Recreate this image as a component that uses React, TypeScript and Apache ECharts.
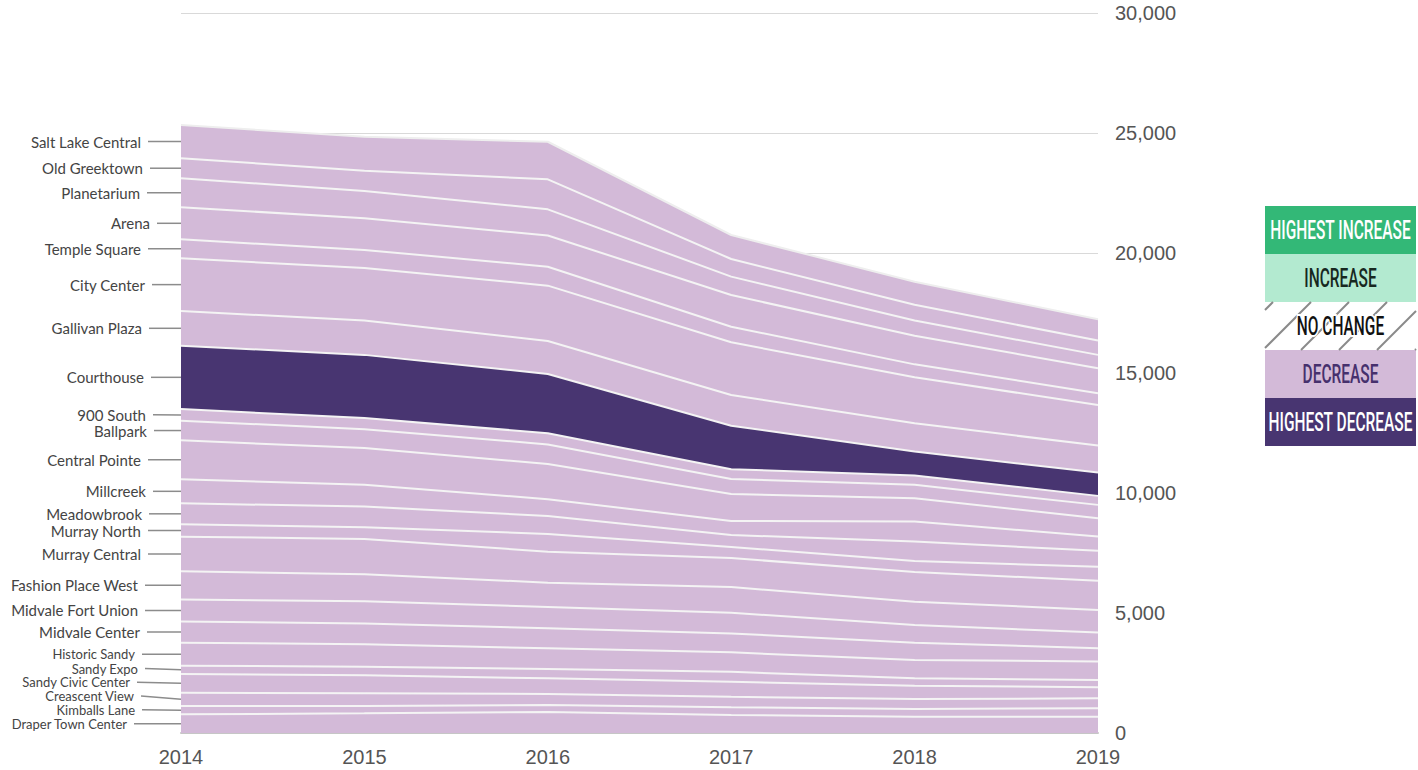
import React, { useEffect, useRef } from "react";
import * as echarts from "echarts";

const years = ["2014", "2015", "2016", "2017", "2018", "2019"];

// stations listed bottom -> top of the stack
const stations = [
  "Draper Town Center",
  "Kimballs Lane",
  "Creascent View",
  "Sandy Civic Center",
  "Sandy Expo",
  "Historic Sandy",
  "Midvale Center",
  "Midvale Fort Union",
  "Fashion Place West",
  "Murray Central",
  "Murray North",
  "Meadowbrook",
  "Millcreek",
  "Central Pointe",
  "Ballpark",
  "900 South",
  "Courthouse",
  "Gallivan Plaza",
  "City Center",
  "Temple Square",
  "Arena",
  "Planetarium",
  "Old Greektown",
  "Salt Lake Central",
];

const draperTownCenter = [780, 820, 875, 750, 680, 680];
const kimballsLane = [345, 305, 290, 320, 320, 350];
const creascentView = [555, 530, 460, 440, 415, 415];
const sandyCivicCenter = [780, 750, 655, 625, 555, 460];
const sandyExpo = [345, 360, 390, 415, 310, 305];
const historicSandy = [960, 935, 860, 810, 765, 765];
const midvaleCenter = [885, 865, 835, 790, 720, 560];
const midvaleFortUnion = [915, 925, 885, 860, 735, 650];
const fashionPlaceWest = [1175, 1125, 1015, 1070, 970, 945];
const murrayCentral = [1440, 1470, 1290, 1210, 1240, 1210];
const murrayNorth = [515, 490, 740, 460, 460, 585];
const meadowbrook = [875, 860, 750, 500, 805, 665];
const millcreek = [1000, 905, 695, 585, 835, 595];
const centralPointe = [1625, 1530, 1470, 1125, 975, 765];
const ballpark = [815, 790, 815, 625, 555, 555];
const nineHundredSouth = [490, 460, 465, 405, 390, 375];
const courthouse = [2640, 2635, 2470, 1815, 1000, 970];
const gallivanPlaza = [1445, 1430, 1375, 1280, 1175, 1125];
const cityCenter = [2195, 2185, 2305, 2195, 1915, 1695];
const templeSquare = [790, 760, 790, 650, 540, 490];
const arena = [1335, 1320, 1300, 1320, 1190, 1040];
const planetarium = [1210, 1135, 1090, 765, 635, 555];
const oldGreektown = [835, 845, 1250, 735, 655, 595];
const saltLakeCentral = [1385, 1415, 1565, 1000, 960, 890];

const seriesValues = [
  draperTownCenter,
  kimballsLane,
  creascentView,
  sandyCivicCenter,
  sandyExpo,
  historicSandy,
  midvaleCenter,
  midvaleFortUnion,
  fashionPlaceWest,
  murrayCentral,
  murrayNorth,
  meadowbrook,
  millcreek,
  centralPointe,
  ballpark,
  nineHundredSouth,
  courthouse,
  gallivanPlaza,
  cityCenter,
  templeSquare,
  arena,
  planetarium,
  oldGreektown,
  saltLakeCentral,
];

const highestDecrease = "Courthouse";

const legendItems = ["HIGHEST INCREASE", "INCREASE", "NO CHANGE", "DECREASE", "HIGHEST DECREASE"];

// layout (not data): right edge of each station label text
const labelRight = [
  127, 135, 134, 130, 138, 135, 140, 138, 138, 141, 141, 142, 146, 141, 147, 146, 144, 142, 145, 141, 150,
  140, 143, 141,
];

const AREA = "#d3bad8";
const DARK = "#483571";

export default function App() {
  const ref = useRef<HTMLDivElement>(null);

  useEffect(() => {
    if (!ref.current) return;
    const chart = echarts.init(ref.current, null, { renderer: "svg" });

    const option: any = {
      animation: false,
      backgroundColor: "#ffffff",
      grid: { left: 181, right: 320, top: 13, bottom: 37 },
      xAxis: {
        type: "category",
        data: years,
        boundaryGap: false,
        axisLine: { show: true, lineStyle: { color: "#c6c6c6", width: 2 } },
        axisTick: { show: false },
        axisLabel: {
          fontSize: 20,
          color: "#555555",
          margin: 14,
          fontFamily: "Liberation Sans, Arial, sans-serif",
        },
        splitLine: { show: false },
      },
      yAxis: {
        type: "value",
        position: "right",
        min: 0,
        max: 30000,
        interval: 5000,
        axisLine: { show: false },
        axisTick: { show: false },
        axisLabel: {
          fontSize: 20,
          color: "#555555",
          margin: 17,
          fontFamily: "Liberation Sans, Arial, sans-serif",
          formatter: (v: number) => v.toLocaleString("en-US"),
        },
        splitLine: { lineStyle: { color: "#d9d9d9", width: 1 } },
      },
      series: stations.map((name, i) => ({
        name,
        type: "line",
        stack: "total",
        data: seriesValues[i],
        symbol: "none",
        showSymbol: false,
        smooth: false,
        lineStyle: { color: i === stations.length - 1 ? "#eeeeee" : "#f4f4f4", width: 2 },
        areaStyle: { color: name === highestDecrease ? DARK : AREA, opacity: 1 },
        emphasis: { disabled: true },
        z: 2,
      })),
    };
    chart.setOption(option);

    // legend boxes
    const lx = 1265;
    const lw = 151;
    const ly = 206;
    const lh = 48;
    const boxFill = ["#33b877", "#b3ead0", "#ffffff", "#d3bad8", "#483571"];
    const textFill = ["#ffffff", "#17281f", "#111111", "#46306d", "#ffffff"];
    const legendGraphics: any[] = [];
    legendItems.forEach((t, i) => {
      legendGraphics.push({
        type: "rect",
        shape: { x: lx, y: ly + i * lh, width: lw, height: lh },
        style: { fill: boxFill[i] },
        z: 10,
      });
      if (i === 2) {
        const top = ly + i * lh;
        const bot = top + lh;
        for (let x0 = lx - 40; x0 < lx + lw; x0 += 38) {
          let x1 = x0,
            y1 = bot,
            x2 = x0 + lh,
            y2 = top;
          if (x1 < lx) {
            y1 = bot - (lx - x1);
            x1 = lx;
          }
          if (x2 > lx + lw) {
            y2 = top + (x2 - (lx + lw));
            x2 = lx + lw;
          }
          if (x2 > x1) {
            legendGraphics.push({
              type: "line",
              shape: { x1, y1, x2, y2 },
              style: { stroke: "#8a8a8a", lineWidth: 2 },
              z: 11,
            });
          }
        }
      }
      legendGraphics.push({
        type: "text",
        x: lx + lw / 2,
        y: ly + i * lh + lh / 2 + 1,
        scaleX: 0.62,
        z: 12,
        style: {
          text: t,
          fill: textFill[i],
          fontSize: 25,
          fontWeight: 500,
          fontFamily: "Roboto, sans-serif",
          align: "center",
          verticalAlign: "middle",
          textAlign: "center",
          textVerticalAlign: "middle",
          stroke: i === 2 ? "#ffffff" : undefined,
          lineWidth: i === 2 ? 4 : 0,
        },
      });
    });

    // station labels at the left of the first year, placed at the band middles,
    // pushed upward where they would collide
    const labelGraphics: any[] = [];
    let acc = 0;
    let prevY = Infinity;
    let prevSize = 0;
    stations.forEach((name, i) => {
      const v0 = seriesValues[i][0];
      const mid = acc + v0 / 2;
      acc += v0;
      const p = chart.convertToPixel({ xAxisIndex: 0, yAxisIndex: 0 }, [0, mid]) as number[];
      const small = i <= 5;
      const size = small ? 13 : 15;
      const gap = ((size + (prevSize || size)) / 2) * 1.06;
      const y = Math.min(p[1], prevY - gap);
      prevY = y;
      prevSize = size;
      labelGraphics.push({
        type: "text",
        x: labelRight[i],
        y,
        z: 10,
        style: {
          text: name,
          fill: "#444444",
          fontSize: size,
          fontFamily: "Lato, sans-serif",
          align: "right",
          verticalAlign: "middle",
          textAlign: "right",
          textVerticalAlign: "middle",
        },
      });
      labelGraphics.push({
        type: "line",
        shape: { x1: labelRight[i] + 7, y1: y, x2: p[0], y2: p[1] },
        style: { stroke: "#8c8c8c", lineWidth: 1.5 },
        z: 10,
      });
    });

    chart.setOption({ graphic: [...legendGraphics, ...labelGraphics] });

    return () => chart.dispose();
  }, []);

  return (
    <div
      ref={ref}
      style={{ position: "absolute", left: 0, top: 0, width: 1418, height: 770, background: "#fff" }}
    />
  );
}
